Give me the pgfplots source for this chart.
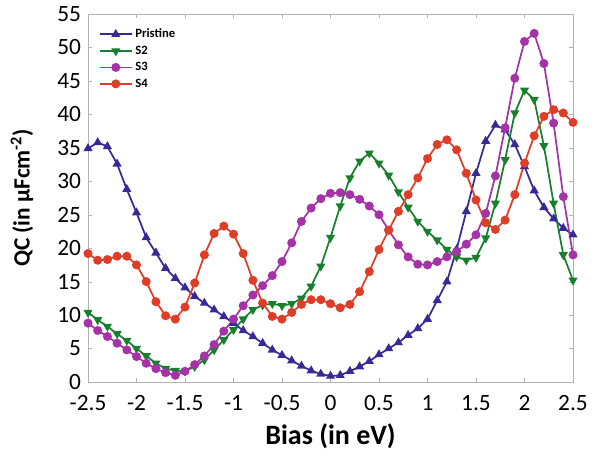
\documentclass[border=0pt]{standalone}
\usepackage{pgfplots}
\usepackage{pgfplotstable}
\usepackage{fontspec}
\setmainfont{Carlito}
\pgfplotsset{compat=1.18}

\definecolor{cpri}{RGB}{56,42,150}
\definecolor{cstwo}{RGB}{24,128,44}
\definecolor{csthree}{RGB}{166,50,168}
\definecolor{csfour}{RGB}{222,62,40}

% bias, pristine, S2, S3, S4
\pgfplotstableread{
x    p     s2    s3    s4
-2.5 34.9  10.4  8.8   19.2
-2.4 35.8  9.3   7.7   18.2
-2.3 35.2  8.3   6.8   18.3
-2.2 32.6  7.2   5.8   18.8
-2.1 28.8  6.2   4.8   18.8
-2.0 25.3  5.0   3.8   17.5
-1.9 21.6  3.9   2.8   15.0
-1.8 19.3  2.8   2.0   12.0
-1.7 17.0  2.0   1.4   9.9
-1.6 15.5  1.7   1.0   9.4
-1.5 14.1  1.6   1.6   11.2
-1.4 12.8  2.3   2.6   14.8
-1.3 11.8  3.3   3.9   19.0
-1.2 10.8  4.8   5.6   22.2
-1.1 9.8   6.3   7.6   23.3
-1.0 8.8   7.8   9.4   22.1
-0.9 7.7   9.4   11.4  19.2
-0.8 6.8   10.8  13.0  15.2
-0.7 5.8   11.5  14.4  11.8
-0.6 4.8   11.7  15.9  9.8
-0.5 4.0   11.4  18.0  9.4
-0.4 3.2   11.7  20.8  10.4
-0.3 2.4   12.5  24.0  11.6
-0.2 1.7   14.3  26.0  12.3
-0.1 1.2   17.3  27.4  12.3
0.0  0.9   21.6  28.2  11.7
0.1  1.0   26.3  28.3  11.1
0.2  1.6   30.5  28.0  11.6
0.3  2.3   33.0  27.3  13.5
0.4  3.1   34.2  26.3  16.5
0.5  4.1   32.7  25.0  19.8
0.6  5.0   30.9  22.7  22.7
0.7  5.9   28.4  20.5  25.5
0.8  7.0   26.1  18.7  28.0
0.9  8.0   24.0  17.6  30.5
1.0  9.4   22.5  17.5  33.4
1.1  12.2  21.2  18.0  35.5
1.2  15.0  19.8  18.7  36.2
1.3  19.8  18.7  19.5  34.7
1.4  25.5  18.2  20.6  31.2
1.5  31.2  18.6  22.0  27.2
1.6  36.0  21.5  25.2  23.8
1.7  38.4  26.7  30.8  22.8
1.8  37.7  33.2  38.0  24.2
1.9  35.5  40.2  45.4  28.0
2.0  32.2  43.6  50.9  32.7
2.1  28.6  42.2  52.1  36.8
2.2  26.1  35.3  47.6  39.7
2.3  24.4  26.7  38.7  40.7
2.4  23.0  19.0  27.7  40.2
2.5  22.0  15.2  19.0  38.8
}\qcdata

\begin{document}
\begin{tikzpicture}
\begin{axis}[
  name=ax,
  scale only axis,
  width=363.75pt, height=276pt,
  xmin=-2.5, xmax=2.5, ymin=0, ymax=55,
  xtick={-2.5,-2,...,2.5},
  ytick={0,5,...,55},
  tick align=inside,
  major tick length=3pt,
  axis line style={gray!60},
  tick style={gray!60},
  /pgf/number format/assume math mode=true,
  ticklabel style={font=\fontsize{17.5}{17.5}\selectfont, inner sep=0pt},
  xticklabel style={yshift=-10pt, text depth=0pt},
  yticklabel style={xshift=-5pt},
  xlabel={Bias (in eV)},
  ylabel={QC (in μFcm\textsuperscript{-2})},
  xlabel style={font=\bfseries\fontsize{21}{21}\selectfont,
    at={([yshift=-41pt]rel axis cs:0.5,0)}, anchor=center},
  ylabel style={font=\bfseries\fontsize{17.5}{17.5}\selectfont,
    at={([xshift=-49.5pt]rel axis cs:0,0.5)}, anchor=center},
  every axis plot/.append style={line width=1.3pt, mark size=2.7pt},
  legend style={draw=none, fill=none, at={(0.022,0.975)}, anchor=north west,
    font=\bfseries\fontsize{9.5}{10}\selectfont, row sep=0.6pt,
    inner xsep=0pt},
  legend cell align=left,
  legend image code/.code={\draw[mark repeat=2,mark phase=2]
    plot coordinates {(0pt,0pt) (12pt,0pt) (24pt,0pt)};},
]
\addplot[color=cpri, mark=triangle*] table[x=x, y=p] {\qcdata};
\addlegendentry{Pristine}
\addplot[color=cstwo, mark=triangle*, mark options={rotate=180}] table[x=x, y=s2] {\qcdata};
\addlegendentry{S2}
\addplot[color=csthree, mark=*] table[x=x, y=s3] {\qcdata};
\addlegendentry{S3}
\addplot[color=csfour, mark=*] table[x=x, y=s4] {\qcdata};
\addlegendentry{S4}
\end{axis}
\pgfresetboundingbox
\path ([xshift=-66pt,yshift=-54pt]ax.south west) rectangle ([xshift=18pt,yshift=10.5pt]ax.north east);
\end{tikzpicture}
\end{document}
